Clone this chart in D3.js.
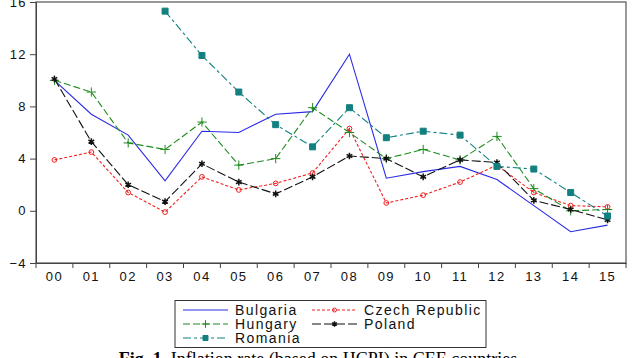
<!DOCTYPE html>
<html>
<head>
<meta charset="utf-8">
<script src="https://cdn.jsdelivr.net/npm/d3@7"></script>
<style>
  body { margin: 0; background: #fff; }
  svg { display: block; }
  .tick text, .lg text { font-family: "Liberation Sans", Arial, sans-serif; letter-spacing: 1.4px; fill: #111; }
</style>
</head>
<body>
<div id="chart"></div>
<script>
// years (x categories)
var years = ["00","01","02","03","04","05","06","07","08","09","10","11","12","13","14","15"];
var yTicks = [-4, 0, 4, 8, 12, 16];

// inflation rates
var bulgaria = [10.0, 7.4, 5.8, 2.3, 6.1, 6.0, 7.4, 7.6, 12.0, 2.5, 3.0, 3.4, 2.4, 0.4, -1.6, -1.1];
var czech    = [3.9, 4.5, 1.4, -0.1, 2.6, 1.6, 2.1, 2.9, 6.3, 0.6, 1.2, 2.2, 3.5, 1.4, 0.4, 0.3];
var hungary  = [10.0, 9.1, 5.2, 4.7, 6.8, 3.5, 4.0, 7.9, 6.0, 4.0, 4.7, 3.9, 5.7, 1.7, 0.0, 0.1];
var poland   = [10.1, 5.3, 2.0, 0.7, 3.6, 2.2, 1.3, 2.6, 4.2, 4.0, 2.6, 3.9, 3.7, 0.8, 0.1, -0.7];
var romania  = [null, null, null, 15.3, 11.9, 9.1, 6.6, 4.9, 7.9, 5.6, 6.1, 5.8, 3.4, 3.2, 1.4, -0.4];

var series = [
  { name: "Bulgaria", values: bulgaria, color: "#2a2ae6", dash: null, symbol: null },
  { name: "Czech Republic", values: czech, color: "#f02020", dash: "3,2", symbol: d3.symbolCircle, fill: "none", size: 18, sw: 1 },
  { name: "Hungary", values: hungary, color: "#1e8c1e", dash: "7,3", symbol: d3.symbolPlus, fill: "#1e8c1e", size: 30, sw: 1 },
  { name: "Poland", values: poland, color: "#111", dash: "9,3", symbol: d3.symbolAsterisk, fill: "none", size: 30, sw: 1.5 },
  { name: "Romania", values: romania, color: "#138080", dash: "8,3,3,3", symbol: d3.symbolSquare, fill: "#138080", size: 36, sw: 1 }
];

var W = 635, H = 358;
var plotLeft = 36, plotRight = 626, plotTop = 2, plotBottom = 263;

var svg = d3.select("#chart").append("svg")
  .attr("width", W)
  .attr("height", H);

var x = d3.scaleBand().domain(years).range([plotLeft, plotRight]).padding(0);
var y = d3.scaleLinear().domain([-4, 16]).range([plotBottom, plotTop]);

// frame
svg.append("rect")
  .attr("x", plotLeft).attr("y", plotTop)
  .attr("width", plotRight - plotLeft).attr("height", plotBottom - plotTop)
  .attr("fill", "none").attr("stroke", "#555").attr("stroke-width", 1.2);

// y axis
var yAxis = svg.append("g")
  .attr("transform", "translate(" + plotLeft + ",0)")
  .call(d3.axisLeft(y).tickValues(yTicks).tickSize(6).tickPadding(3));
yAxis.select(".domain").attr("stroke", "#444");
yAxis.selectAll(".tick line").attr("stroke", "#444");
yAxis.selectAll("text").style("font-size", "13px");

// x axis: labels centred on bands, tick marks on band edges
var xAxis = svg.append("g")
  .attr("transform", "translate(0," + plotBottom + ")")
  .call(d3.axisBottom(x).tickSize(0).tickPadding(9));
xAxis.select(".domain").attr("stroke", "#444");
xAxis.selectAll("text").style("font-size", "13px");
var edges = years.map(function(d) { return x(d); }).concat([x(years[years.length - 1]) + x.bandwidth()]);
xAxis.selectAll(".edge")
  .data(edges)
  .enter()
  .append("line")
  .attr("x1", function(d) { return d; })
  .attr("x2", function(d) { return d; })
  .attr("y1", 0)
  .attr("y2", 5)
  .attr("stroke", "#444");

var cx = function(i) { return x(years[i]) + x.bandwidth() / 2; };

var line = d3.line()
  .defined(function(d) { return d != null; })
  .x(function(d, i) { return cx(i); })
  .y(function(d) { return y(d); });

series.forEach(function(s) {
  svg.append("path")
    .datum(s.values)
    .attr("d", line)
    .attr("fill", "none")
    .attr("stroke", s.color)
    .attr("stroke-width", 1.1)
    .attr("stroke-dasharray", s.dash);

  if (s.symbol) {
    svg.selectAll(".m-" + s.name.replace(" ", ""))
      .data(s.values.map(function(v, i) { return { v: v, i: i }; }).filter(function(d) { return d.v != null; }))
      .enter()
      .append("path")
      .attr("transform", function(d) { return "translate(" + cx(d.i) + "," + y(d.v) + ")"; })
      .attr("d", d3.symbol().type(s.symbol).size(s.size))
      .attr("fill", s.fill)
      .attr("stroke", s.color)
      .attr("stroke-width", s.sw);
  }
});

// legend
var lg = svg.append("g").attr("class", "lg");
lg.append("rect")
  .attr("x", 175).attr("y", 300.5)
  .attr("width", 311).attr("height", 47)
  .attr("fill", "#fff").attr("stroke", "#333").attr("stroke-width", 1);

var legendPos = [[183, 310], [312, 310], [183, 324], [312, 324], [183, 338]];
series.forEach(function(s, i) {
  var p = legendPos[i];
  var g = lg.append("g").attr("transform", "translate(" + p[0] + "," + p[1] + ")");
  g.append("line")
    .attr("x1", 0).attr("x2", 45).attr("y1", 0).attr("y2", 0)
    .attr("stroke", s.color).attr("stroke-width", 1.1)
    .attr("stroke-dasharray", s.dash);
  if (s.symbol) {
    g.append("path")
      .attr("transform", "translate(22.5,0)")
      .attr("d", d3.symbol().type(s.symbol).size(s.size * 0.7))
      .attr("fill", s.fill).attr("stroke", s.color).attr("stroke-width", s.sw);
  }
  g.append("text")
    .attr("x", 52).attr("y", 5)
    .style("font-size", "14px")
    .text(s.name);
});

// caption
var cap = svg.append("text")
  .attr("x", 318).attr("y", 365)
  .attr("text-anchor", "middle")
  .style("font-family", "'Liberation Serif', 'Times New Roman', serif")
  .style("font-size", "18px")
  .attr("fill", "#000");
cap.append("tspan").attr("font-weight", "bold").text("Fig. 1.");
cap.append("tspan").text(" Inflation rate (based on HCPI) in CEE countries");
</script>
</body>
</html>
